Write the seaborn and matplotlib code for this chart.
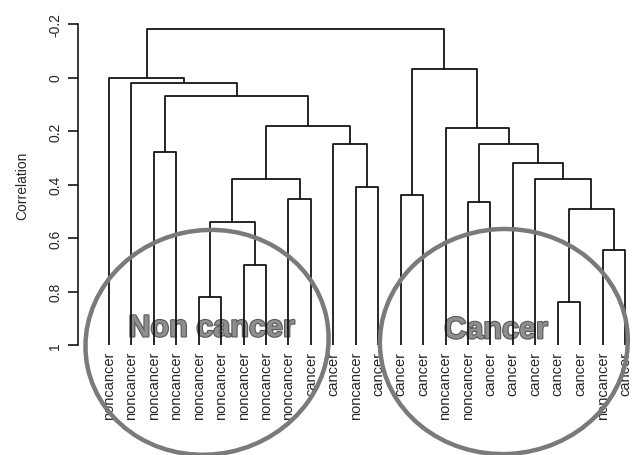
import pandas as pd
import matplotlib.pyplot as plt
import matplotlib.patheffects as pe
from matplotlib.patches import Ellipse
from matplotlib.transforms import IdentityTransform, ScaledTranslation
import seaborn as sns

# Leaf labels in dendrogram order (left to right)
leaf_labels = ["noncancer"] * 9 + [
    "cancer", "cancer", "noncancer", "cancer", "cancer", "cancer",
    "noncancer", "noncancer", "cancer", "cancer", "cancer", "cancer",
    "cancer", "noncancer", "cancer",
]

# R-style merge table: negative = leaf (1-based), positive = earlier merge (1-based)
merge_left = [-5, -21, -7, -23, 1, 2, -17, -9, -14, -12, 5, -20,
              -19, -3, -11, 7, -16, 11, 14, -2, -1, 9, 21]
merge_right = [-6, -22, -8, -24, 3, 4, -18, -10, -15, -13, 8, 6,
               12, -4, 10, 13, 16, 15, 18, 19, 20, 17, 22]
merge_height = [0.82, 0.84, 0.70, 0.645, 0.54, 0.49, 0.465, 0.455, 0.44, 0.41, 0.38, 0.38,
                0.32, 0.28, 0.25, 0.25, 0.19, 0.18, 0.07, 0.02, 0.0, -0.03, -0.18]

y_ticks = [-0.2, 0, 0.2, 0.4, 0.6, 0.8, 1]
y_tick_labels = ["-0.2", "0", "0.2", "0.4", "0.6", "0.8", "1"]
leaf_bottom = 1.0

sns.set_theme(style="ticks")
plt.rcParams["font.family"] = ["Liberation Sans", "DejaVu Sans"]

# Build one polyline per merge
node_x, node_h = {}, {}


def pos(idx):
    if idx < 0:
        return float(-idx), leaf_bottom
    return node_x[idx], node_h[idx]


rows = []
for i, (l, r, h) in enumerate(zip(merge_left, merge_right, merge_height), start=1):
    xl, hl = pos(l)
    xr, hr = pos(r)
    node_x[i] = (xl + xr) / 2
    node_h[i] = h
    for x, y in [(xl, hl), (xl, h), (xr, h), (xr, hr)]:
        rows.append({"node": i, "x": x, "y": y})
seg = pd.DataFrame(rows)

fig = plt.figure(figsize=(6.32, 4.56), dpi=100)
ax = fig.add_axes([78 / 632, 110 / 456, 554 / 632, 321 / 456])

sns.lineplot(data=seg, x="x", y="y", units="node", estimator=None, sort=False,
             color="#151515", lw=1.3, ax=ax, zorder=2)

ax.set_xlim(-0.382, 24.312)
ax.set_ylim(1, -0.2)
ax.set_xlabel("")
ax.set_ylabel("")

for s in ["top", "right", "bottom"]:
    ax.spines[s].set_visible(False)
ax.spines["left"].set_linewidth(1.2)
ax.spines["left"].set_color("#151515")

ax.set_yticks(y_ticks, y_tick_labels, rotation=90, va="center", fontsize=10)
ax.tick_params(axis="y", length=7.2, width=1.2, pad=4, color="#151515")
ax.set_xticks(range(1, len(leaf_labels) + 1), leaf_labels, rotation=90, fontsize=10.5)
ax.tick_params(axis="x", length=0, pad=4)

fig.text(22 / 632, 0.5 + (456 - 2 * 186) / 2 / 456, "Correlation", rotation=90,
         ha="center", va="center", fontsize=10)

# Group annotations: ellipses (sizes in pixels) centred on data positions
for cx, cy, w, h, ang in [(5.37, 0.99, 244, 224, 12), (18.6, 0.987, 248, 225, 3)]:
    tr = IdentityTransform() + ScaledTranslation(cx, cy, ax.transData)
    e = Ellipse((0, 0), w, h, angle=ang, fill=False, edgecolor="#7a7a7a",
                lw=3.2, transform=tr, clip_on=False, zorder=3)
    ax.add_artist(e)

for tx, ty, txt in [(5.57, 0.968, "Non cancer"), (18.25, 0.975, "Cancer")]:
    ax.text(tx, ty, txt, ha="center", va="baseline", fontsize=22, fontweight="bold",
            color="#8e8e8e", zorder=1, clip_on=False,
            path_effects=[pe.withStroke(linewidth=1.6, foreground="#5a5a5a")])

fig.savefig("out.png", dpi=100)
